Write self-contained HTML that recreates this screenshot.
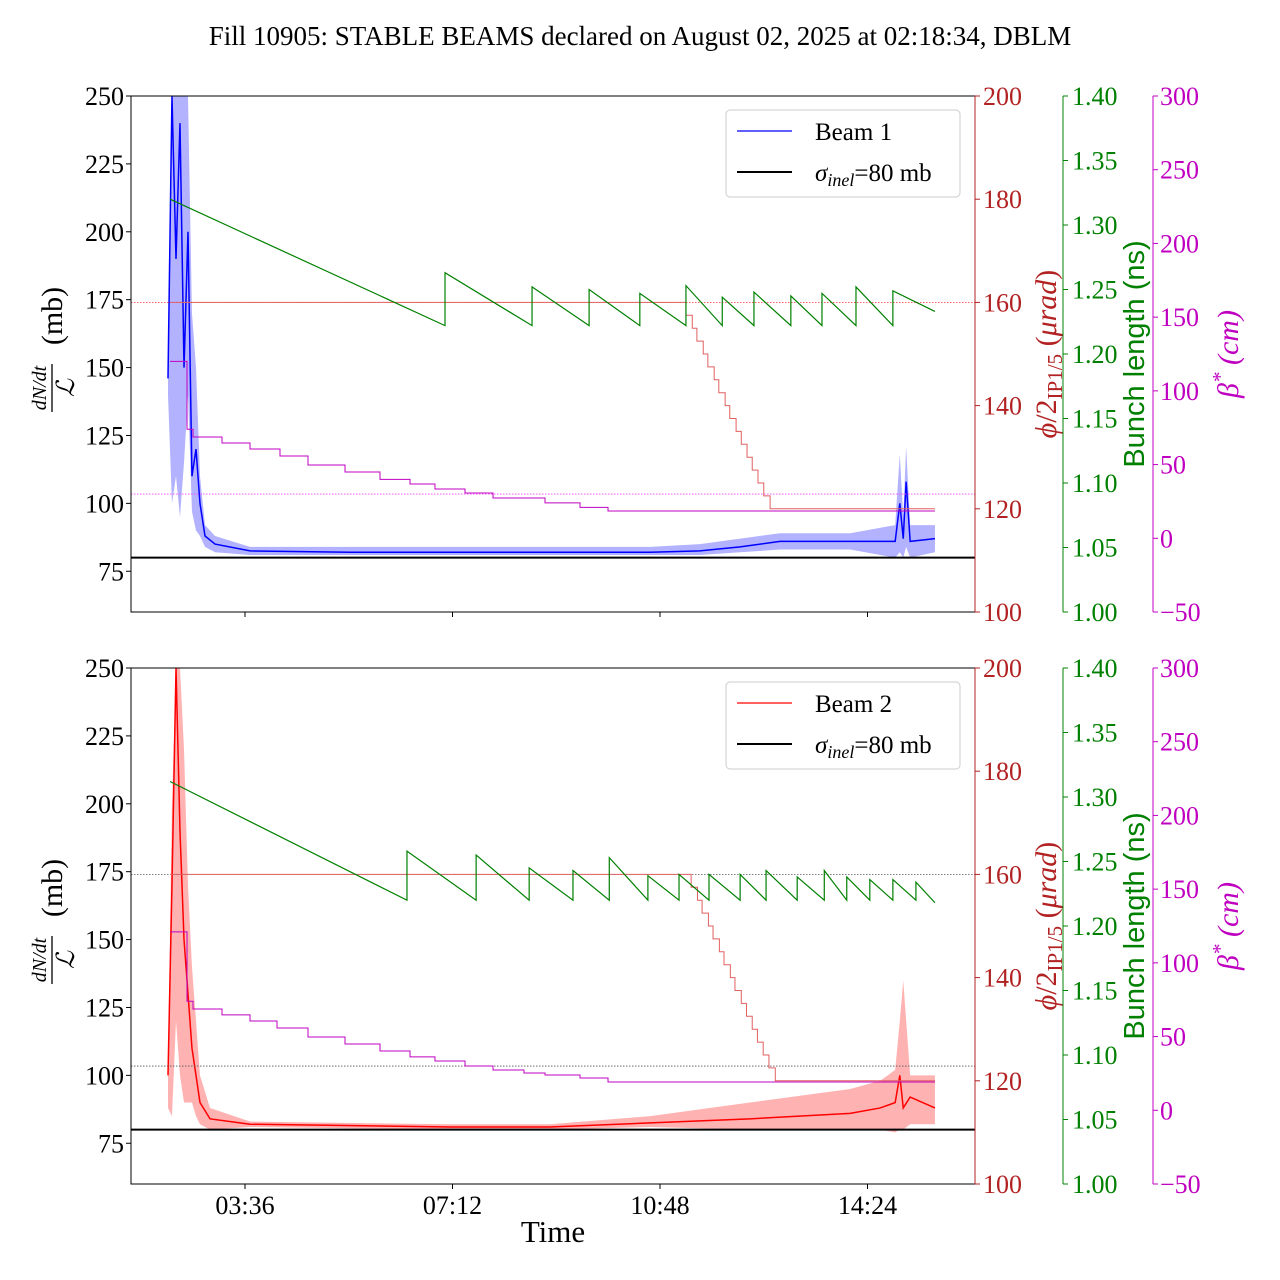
<!DOCTYPE html>
<html><head><meta charset="utf-8"><style>
body{margin:0;background:#fff}
svg{display:block;font-family:"Liberation Serif",serif}
</style></head><body>
<svg id="c" width="1280" height="1280" xmlns="http://www.w3.org/2000/svg">
<text x="640" y="45" text-anchor="middle" font-size="27">Fill 10905: STABLE BEAMS declared on August 02, 2025 at 02:18:34, DBLM</text>
<text x="553" y="1242" text-anchor="middle" font-size="31">Time</text>
</svg>
<script>
// ---------- data ----------
const xTickHours=[3.6,7.2,10.8,14.4];
const xTickLabels=["03:36","07:12","10:48","14:24"];
const leftTicks=[75,100,125,150,175,200,225,250];
const redTicks=[100,120,140,160,180,200];
const greenTicks=[1.00,1.05,1.10,1.15,1.20,1.25,1.30,1.35,1.40];
const magTicks=[-50,0,50,100,150,200,250,300];

const b1T=[2.264,2.333,2.403,2.472,2.542,2.611,2.68,2.75,2.819,2.906,3.08,3.687,5.42,7.157,8.89,10.63,11.49,12.19,12.88,14.1,14.88,14.96,15.02,15.07,15.14,15.57];
const b1V=[146,250,190,240,150,200,110,120,100,88,85,82.5,82,82,82,82,82.5,84,86,86,86,100,87,108,86,87];
const b1Up=[150,250,250,250,250,250,170,150,110,92,88,84,84,84,84,84,85,87,89,89,92,118,95,121,92,92];
const b1Lo=[140,100,110,95,115,140,97,90,88,84,82,81,81,81,81,81,81,82,83,83,80,82,80,84,80,82];

const b2T=[2.264,2.333,2.403,2.472,2.542,2.611,2.68,2.75,2.819,2.993,3.687,7.157,8.89,10.63,12.36,14.1,14.62,14.88,14.96,15.02,15.14,15.57];
const b2V=[100,170,250,190,150,130,110,100,90,84,82,81,81,82.5,84,86,88,90,100,88,92,88];
const b2Up=[105,200,250,250,220,170,140,120,100,88,83,82,82,85,90,95,98,102,120,135,100,100];
const b2Lo=[88,85,120,100,90,90,90,85,82,80,81,80,80,81,80,80,80,79,80,80,82,82];

const gTopT=[2.30,7.07,8.58,9.57,10.45,11.25,11.88,12.43,13.07,13.61,14.20,14.84];
const gTopPeak=[1.32,1.263,1.252,1.25,1.247,1.253,1.244,1.248,1.245,1.247,1.252,1.249];
const gTopTrough=[1.222,1.222,1.222,1.222,1.222,1.222,1.222,1.222,1.222,1.222,1.222,1.233];
const gBotT=[2.30,6.41,7.61,8.53,9.29,9.92,10.59,11.13,11.65,12.19,12.64,13.18,13.65,14.04,14.44,14.84,15.24];
const gBotPeak=[1.312,1.258,1.255,1.245,1.243,1.253,1.239,1.24,1.24,1.24,1.243,1.238,1.243,1.238,1.236,1.236,1.234];
const gBotTrough=[1.22,1.22,1.22,1.22,1.22,1.22,1.22,1.22,1.22,1.22,1.22,1.22,1.22,1.22,1.22,1.22,1.218];
const endHour=15.57;

const xTopT=[2.30,11.25,11.36,11.44,11.55,11.63,11.74,11.82,11.93,12.01,12.12,12.21,12.31,12.40,12.50,12.60,12.71];
const xTopV=[160,157.5,155,152.5,150,147.5,145,142.5,140,137.5,135,132.5,130,127.5,125,122.5,120];
const xBotT=[2.30,11.34,11.45,11.53,11.64,11.72,11.83,11.91,12.02,12.10,12.21,12.30,12.40,12.49,12.59,12.69,12.80];
const xBotV=[160,157.5,155,152.5,150,147.5,145,142.5,140,137.5,135,132.5,130,127.5,125,122.5,120];

const mTopT=[2.30,2.594,2.698,3.201,3.687,4.207,4.693,5.335,5.942,6.463,6.896,7.417,7.903,8.805,9.412,9.898];
const mTopV=[120,74,68.7,64.6,60.6,55.8,49.7,45,40,36.8,33.4,30.7,27.3,24,21,18.5];
const mBotT=[2.30,2.594,2.698,3.201,3.687,4.155,4.693,5.335,5.942,6.463,6.896,7.417,7.903,8.44,8.805,9.412,9.898];
const mBotV=[121,74,68.7,64.7,60.6,55.8,49.7,45,40.2,36.2,33.4,30,27.3,25.3,23.9,21.9,19.2];

// ---------- drawing ----------
const svg=document.getElementById('c');
const NS="http://www.w3.org/2000/svg";
function mk(tag,attrs,parent){const e=document.createElementNS(NS,tag);for(const k in attrs)e.setAttribute(k,attrs[k]);(parent||svg).appendChild(e);return e;}
const X0=131,X1=975;
const xs=h=>245+(h-3.6)*57.64;
const RED="#b22222",GRN="#008000",MAG="#c000c0";
const TF=26;

function panel(top,beam,T,V,Up,Lo,gT,gP,gTr,xT,xV,mT,mV,showX,dotCol1,dotCol2){
  const bot=top+516;
  const yL=v=>bot-(v-60)/190*516;
  const yR=v=>bot-(v-100)/100*516;
  const yG=v=>bot-(v-1)/0.4*516;
  const yM=v=>bot-(v+50)/350*516;
  const g=mk('g',{});
  
  
  const clip='clip'+beam;
  const cp=mk('clipPath',{id:clip},g);mk('rect',{x:X0,y:top,width:X1-X0,height:516},cp);
  const pg=mk('g',{'clip-path':'url(#'+clip+')'},g);
  const col=beam===1?"#0000ff":"#ff0000";
  let pts=T.map((t,i)=>xs(t)+','+yL(Up[i])).concat(T.slice().reverse().map((t,j)=>{const i=T.length-1-j;return xs(t)+','+yL(Lo[i]);}));
  const band=mk('polygon',{points:pts.join(' '),fill:col,'fill-opacity':0.3},pg);
  
  
  const ln=mk('polyline',{points:T.map((t,i)=>xs(t)+','+yL(V[i])).join(' '),fill:'none',stroke:col,'stroke-width':1.5},pg);
  
  
  const rl=mk('line',{x1:X0,x2:X1,y1:yL(80),y2:yL(80),stroke:'#000','stroke-width':2},pg);
  
  
  mk('line',{x1:X0,x2:X1,y1:yR(160),y2:yR(160),stroke:dotCol1,'stroke-width':0.8,'stroke-dasharray':'1.5,1.5'},pg);
  mk('line',{x1:X0,x2:X1,y1:yM(30),y2:yM(30),stroke:dotCol2,'stroke-width':0.8,'stroke-dasharray':'1.5,1.5'},pg);
  let d='';xT.forEach((t,i)=>{const x=xs(t),y=yR(xV[i]);d+=(i?'H'+x+'V'+y:'M'+x+','+y);});d+='H'+xs(endHour);
  const xp=mk('path',{d:d,fill:'none',stroke:'#e06060','stroke-width':1},pg);
  
  
  d='';mT.forEach((t,i)=>{const x=xs(t),y=yM(mV[i]);d+=(i?'H'+x+'V'+y:'M'+x+','+y);});d+='H'+xs(endHour);
  const mp=mk('path',{d:d,fill:'none',stroke:MAG,'stroke-width':1},pg);
  
  
  d='';gT.forEach((t,i)=>{const te=i<gT.length-1?gT[i+1]:endHour;d+=(i?'L':'M')+xs(t)+','+yG(gP[i])+'L'+xs(te)+','+yG(gTr[i]);});
  const gp=mk('path',{d:d,fill:'none',stroke:GRN,'stroke-width':1.2},pg);
  
  
  mk('rect',{x:X0,y:top,width:X1-X0,height:516,fill:'none',stroke:'#000','stroke-width':1},g);
  mk('line',{x1:X1,x2:X1,y1:top,y2:bot,stroke:RED,'stroke-width':1},g);
  mk('line',{x1:1063,x2:1063,y1:top,y2:bot,stroke:GRN,'stroke-width':1},g);
  mk('line',{x1:1153,x2:1153,y1:top,y2:bot,stroke:MAG,'stroke-width':1},g);
  leftTicks.forEach(v=>{const y=yL(v);mk('line',{x1:X0-5,x2:X0,y1:y,y2:y,stroke:'#000'},g);
    const t=mk('text',{x:X0-7,y:y+9,'text-anchor':'end','font-size':TF},g);t.textContent=v;});
  redTicks.forEach(v=>{const y=yR(v);mk('line',{x1:X1,x2:X1+5,y1:y,y2:y,stroke:RED},g);
    const t=mk('text',{x:X1+8,y:y+9,'font-size':TF,fill:RED},g);t.textContent=v;});
  greenTicks.forEach(v=>{const y=yG(v);mk('line',{x1:1063,x2:1068,y1:y,y2:y,stroke:GRN},g);
    const t=mk('text',{x:1072,y:y+9,'font-size':TF,fill:GRN},g);t.textContent=v.toFixed(2);});
  magTicks.forEach(v=>{const y=yM(v);mk('line',{x1:1153,x2:1158,y1:y,y2:y,stroke:MAG},g);
    const t=mk('text',{x:1160,y:y+9,'font-size':TF,fill:MAG},g);t.textContent=v<0?'\u2212'+(-v):v;});
  xTickHours.forEach((h,i)=>{const x=xs(h);mk('line',{x1:x,x2:x,y1:bot,y2:bot+5,stroke:'#000'},g);
    if(showX){const t=mk('text',{x:x,y:bot+30,'text-anchor':'middle','font-size':TF},g);t.textContent=xTickLabels[i];}});
  const cy=top+258;
  const lg=mk('g',{transform:'translate(52,'+cy+') rotate(-90)'},g);
  
  
  let t=mk('text',{x:38,y:10,'text-anchor':'middle','font-size':30},lg);t.textContent='(mb)';
  t=mk('text',{x:-34,y:-6,'text-anchor':'middle','font-size':20,'font-style':'italic'},lg);t.textContent='dN/dt';
  mk('line',{x1:-58,x2:-10,y1:0,y2:0,stroke:'#000','stroke-width':1.3},lg);
  t=mk('text',{x:-34,y:22,'text-anchor':'middle','font-size':25,'font-style':'italic'},lg);t.textContent='\u2112';
  const r1=mk('text',{transform:'translate(1056,'+cy+') rotate(-90)','text-anchor':'middle','font-size':30,fill:RED},g);
  
  
  r1.innerHTML='<tspan font-style="italic">\u03d5</tspan>/2<tspan font-size="21" dy="6">IP1/5</tspan><tspan dy="-6"> (</tspan><tspan font-style="italic">\u03bcrad</tspan>)';
  const r2=mk('text',{transform:'translate(1144,'+cy+') rotate(-90)','text-anchor':'middle','font-family':'Liberation Sans, sans-serif','font-size':29,fill:GRN},g);
  
  
  r2.textContent='Bunch length (ns)';
  const r3=mk('text',{transform:'translate(1238,'+cy+') rotate(-90)','text-anchor':'middle','font-size':30,fill:MAG,'font-style':'italic'},g);
  
  
  r3.innerHTML='\u03b2<tspan dy="-11" font-size="21">*</tspan><tspan dy="11"> (cm)</tspan>';
  const L=mk('g',{},g);
  
  
  mk('rect',{x:726,y:top+14,width:234,height:87,rx:4,fill:'#fff','fill-opacity':0.85,stroke:'#ccc'},L);
  mk('line',{x1:737,x2:792,y1:top+35,y2:top+35,stroke:col,'stroke-width':1.2},L);
  t=mk('text',{x:815,y:top+44,'font-size':25},L);t.textContent='Beam '+beam;
  mk('line',{x1:737,x2:792,y1:top+76,y2:top+76,stroke:'#000','stroke-width':2},L);
  t=mk('text',{x:815,y:top+85,'font-size':25},L);t.innerHTML='<tspan font-style="italic">\u03c3</tspan><tspan font-style="italic" font-size="18" dy="5">inel</tspan><tspan dy="-5">=80 mb</tspan>';
}
panel(96,1,b1T,b1V,b1Up,b1Lo,gTopT,gTopPeak,gTopTrough,xTopT,xTopV,mTopT,mTopV,false,'#ff3030','#ff40ff');
panel(668,2,b2T,b2V,b2Up,b2Lo,gBotT,gBotPeak,gBotTrough,xBotT,xBotV,mBotT,mBotV,true,'#555','#555');
</script>
</body></html>
